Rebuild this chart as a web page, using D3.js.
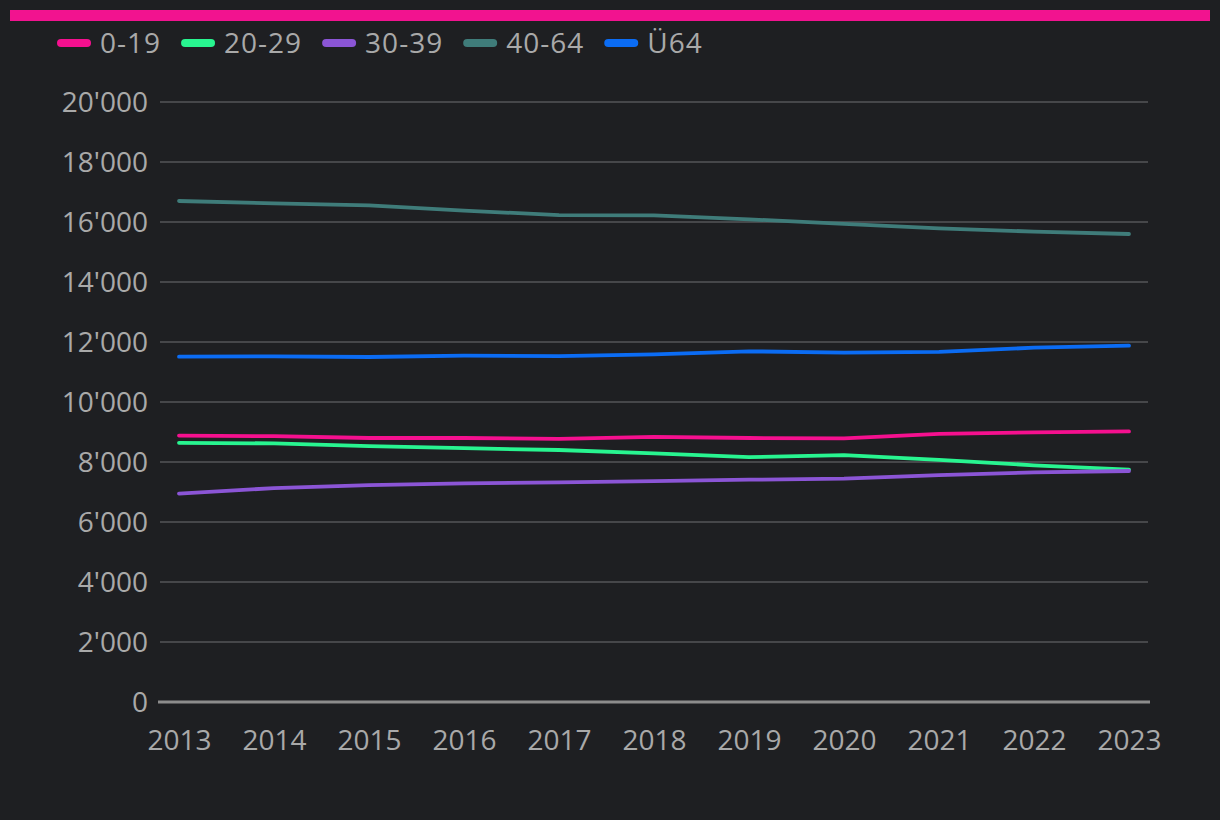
<!DOCTYPE html>
<html><head><meta charset="utf-8">
<script src="https://cdn.jsdelivr.net/npm/d3@7"></script>
<style>
html,body{margin:0;padding:0;background:#1e1f22;}
svg{display:block;}
text{font-family:"Open Sans","Noto Sans",sans-serif;}
</style></head>
<body>
<svg id="c" width="1220" height="820"></svg>
<script>
const years = [2013,2014,2015,2016,2017,2018,2019,2020,2021,2022,2023];
const seriesNames = ["0-19","20-29","30-39","40-64","Ü64"];
const seriesColors = ["#f5108f","#28f590","#8b55d6","#3f7c7a","#0b6cf4"];
const v0_19  = [8880,8860,8800,8800,8770,8840,8800,8790,8940,8990,9020];
const v20_29 = [8640,8620,8530,8460,8400,8290,8160,8230,8070,7890,7745];
const v30_39 = [6945,7130,7230,7290,7320,7365,7410,7445,7565,7655,7700];
const v40_64 = [16700,16620,16555,16380,16230,16220,16090,15935,15790,15680,15600];
const vU64   = [11510,11520,11500,11545,11530,11590,11690,11645,11670,11810,11880];
const yTicks = [0,2000,4000,6000,8000,10000,12000,14000,16000,18000,20000];
const allSeries = [v0_19,v20_29,v30_39,v40_64,vU64];

const svg = d3.select("#c");
svg.append("rect").attr("width",1220).attr("height",820).attr("fill","#1e1f22");
svg.append("rect").attr("x",10).attr("y",10).attr("width",1200).attr("height",11).attr("fill","#f2138f");

const x = d3.scalePoint().domain(years).range([179,1129]);
const y = d3.scaleLinear().domain([0,20000]).range([702,102]);
const fmt = d => d3.format(",")(d).replace(/,/g,"'");

// grid
const yAxis = d3.axisLeft(y).tickValues(yTicks).tickSize(0).tickPadding(12).tickFormat(fmt);
const gy = svg.append("g").attr("transform","translate(160,0)").call(yAxis);
gy.select(".domain").remove();
gy.selectAll("text").attr("fill","#a9a9a9").attr("font-size",28).attr("dy","0.35em").attr("x",-12);
svg.append("g").selectAll("line").data(yTicks.filter(d=>d>0)).join("line")
  .attr("x1",160).attr("x2",1148).attr("y1",d=>y(d)).attr("y2",d=>y(d))
  .attr("stroke","#555658").attr("stroke-width",1.5);

const xAxis = d3.axisBottom(x).tickSize(0).tickPadding(0);
const gx = svg.append("g").attr("transform","translate(0,702)").call(xAxis);
gx.select(".domain").remove();
gx.selectAll("text").attr("fill","#a9a9a9").attr("font-size",28).attr("y",28).attr("dy","0.71em");
svg.append("line").attr("x1",158).attr("x2",1150).attr("y1",y(0)).attr("y2",y(0))
  .attr("stroke","#8c8c8c").attr("stroke-width",3);

// lines
const line = d3.line().x((d,i)=>x(years[i])).y(d=>y(d));
svg.append("g").selectAll("path").data(allSeries).join("path")
  .attr("d",line).attr("fill","none")
  .attr("stroke",(d,i)=>seriesColors[i]).attr("stroke-width",3.8)
  .attr("stroke-linecap","round").attr("stroke-linejoin","round");

// legend
const lg = svg.append("g");
let cx = 61;
seriesNames.forEach((n,i)=>{
  lg.append("line").attr("x1",cx).attr("x2",cx+26).attr("y1",43).attr("y2",43)
    .attr("stroke",seriesColors[i]).attr("stroke-width",8).attr("stroke-linecap","round");
  const t = lg.append("text").attr("x",cx+39).attr("y",43).attr("dy","0.35em")
    .attr("fill","#a9a9a9").attr("font-size",28).attr("letter-spacing",1).text(n);
  const w = t.node().getComputedTextLength();
  cx = cx + 39 + w + 24;
});
</script>
</body></html>
